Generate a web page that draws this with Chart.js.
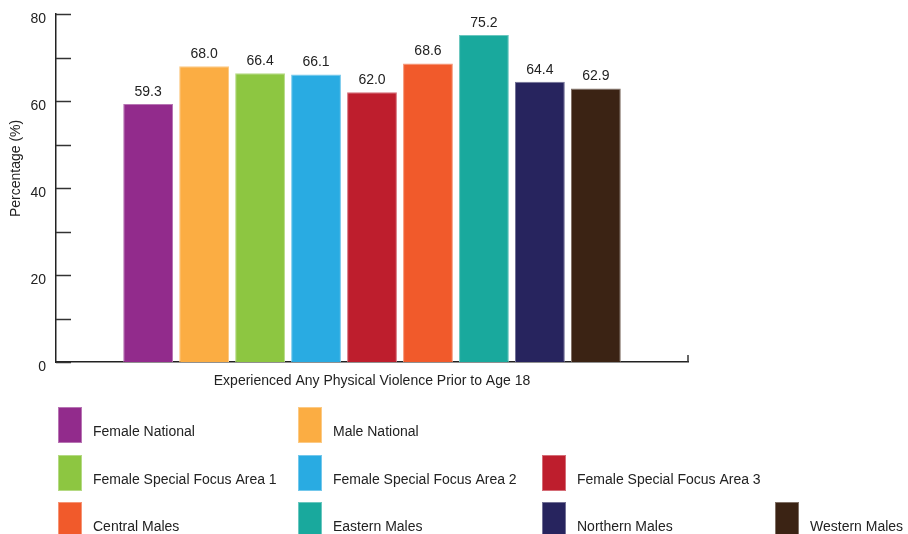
<!DOCTYPE html>
<html>
<head>
<meta charset="utf-8">
<script src="https://cdn.jsdelivr.net/npm/chart.js@4/dist/chart.umd.min.js"></script>
<style>
  html, body { margin: 0; padding: 0; background: #ffffff; }
  #wrap { width: 908px; height: 534px; }
</style>
</head>
<body>
<div id="wrap"><canvas id="chart" width="908" height="534"></canvas></div>
<script>
// Single category, one bar per population group
const categories = ['Experienced Any Physical Violence Prior to Age 18'];
const seriesNames = [
  'Female National',
  'Male National',
  'Female Special Focus Area 1',
  'Female Special Focus Area 2',
  'Female Special Focus Area 3',
  'Central Males',
  'Eastern Males',
  'Northern Males',
  'Western Males'
];
const seriesValues = [59.3, 68.0, 66.4, 66.1, 62.0, 68.6, 75.2, 64.4, 62.9];
const seriesColors = [
  '#922B8C', '#FBAD43', '#8DC641', '#29ABE2', '#BE1E2D',
  '#F15A2B', '#19A99D', '#27245E', '#3B2314'
];
const yTickLabels = [0, 20, 40, 60, 80];
const yAxisTitle = 'Percentage (%)';

const FONT = '"Liberation Sans", Arial, Helvetica, sans-serif';
const TEXT = '#222222';

// lighter outline around each coloured block
function tint(hex, amt) {
  const n = parseInt(hex.slice(1), 16);
  const r = (n >> 16) & 255, g = (n >> 8) & 255, b = n & 255;
  const m = c => Math.round(c + (255 - c) * amt);
  return `rgb(${m(r)},${m(g)},${m(b)})`;
}

const datasets = seriesNames.map((name, i) => ({
  label: name,
  data: [seriesValues[i]],
  backgroundColor: seriesColors[i],
  borderColor: tint(seriesColors[i], 0.35),
  borderWidth: 1,
  categoryPercentage: 0.797,
  barPercentage: 0.89
}));

// values printed above each bar
const valueLabels = {
  id: 'valueLabels',
  afterDatasetsDraw(chart) {
    const ctx = chart.ctx;
    ctx.save();
    ctx.font = `14px ${FONT}`;
    ctx.fillStyle = TEXT;
    ctx.textAlign = 'center';
    ctx.textBaseline = 'bottom';
    chart.data.datasets.forEach((ds, i) => {
      chart.getDatasetMeta(i).data.forEach((bar, j) => {
        ctx.fillText(ds.data[j].toFixed(1), bar.x, bar.y - 5);
      });
    });
    ctx.restore();
  }
};

// inward tick marks on the value axis, end tick on the category axis, axis title
const axisMarks = {
  id: 'axisMarks',
  afterDraw(chart) {
    const ctx = chart.ctx;
    const y = chart.scales.y;
    const area = chart.chartArea;
    ctx.save();
    ctx.strokeStyle = '#333333';
    ctx.lineWidth = 1.5;
    y.ticks.forEach(t => {
      const py = Math.round(y.getPixelForValue(t.value)) + 0.5;
      ctx.beginPath();
      ctx.moveTo(area.left, py);
      ctx.lineTo(area.left + 15, py);
      ctx.stroke();
    });
    ctx.beginPath();
    ctx.moveTo(area.right, area.bottom);
    ctx.lineTo(area.right, area.bottom - 7);
    ctx.stroke();

    // rotated value-axis title, set a little above the plot's middle
    ctx.translate(16, y.getPixelForValue(44.5));
    ctx.rotate(-Math.PI / 2);
    ctx.font = `14px ${FONT}`;
    ctx.fillStyle = TEXT;
    ctx.textAlign = 'center';
    ctx.textBaseline = 'middle';
    ctx.fillText(yAxisTitle, 0, 0);
    ctx.restore();
  }
};

// legend laid out as rows of swatches below the plot
const gridLegend = {
  id: 'gridLegend',
  afterDraw(chart) {
    const ctx = chart.ctx;
    const rows = [[0, 1], [2, 3, 4], [5, 6, 7, 8]];
    const colX = [58, 298, 542, 775];
    const rowY = [407, 455, 502];
    ctx.save();
    ctx.font = `14px ${FONT}`;
    ctx.textBaseline = 'middle';
    ctx.textAlign = 'left';
    rows.forEach((row, r) => {
      row.forEach((idx, c) => {
        const ds = chart.data.datasets[idx];
        const x = colX[c], top = rowY[r];
        ctx.fillStyle = ds.borderColor;
        ctx.fillRect(x, top, 24, 36);
        ctx.fillStyle = ds.backgroundColor;
        ctx.fillRect(x + 1, top + 1, 22, 34);
        ctx.fillStyle = TEXT;
        ctx.fillText(ds.label, x + 35, top + 25);
      });
    });
    ctx.restore();
  }
};

new Chart(document.getElementById('chart'), {
  type: 'bar',
  data: { labels: categories, datasets },
  options: {
    responsive: false,
    animation: false,
    layout: { padding: { top: 14, right: 220, left: 0, bottom: 0 } },
    plugins: {
      legend: { display: false },
      tooltip: { enabled: false }
    },
    scales: {
      x: {
        grid: { display: false, drawTicks: false },
        border: { display: true, color: '#222222', width: 1.5 },
        ticks: { color: TEXT, font: { family: FONT, size: 14 }, padding: 11 },
        afterFit(s) { s.height = 172; s.paddingLeft = 0; s.paddingRight = 0; }
      },
      y: {
        min: 0,
        max: 80,
        grid: { display: false, drawTicks: false },
        border: { display: true, color: '#222222', width: 1.5 },
        ticks: {
          stepSize: 10,
          color: TEXT,
          font: { family: FONT, size: 14 },
          padding: 10,
          labelOffset: 5,
          callback: v => yTickLabels.includes(v) ? String(v) : ''
        },
        title: { display: false },
        afterFit(s) { s.width = 56; s.paddingTop = 0; s.paddingBottom = 0; }
      }
    }
  },
  plugins: [valueLabels, axisMarks, gridLegend]
});
</script>
</body>
</html>
